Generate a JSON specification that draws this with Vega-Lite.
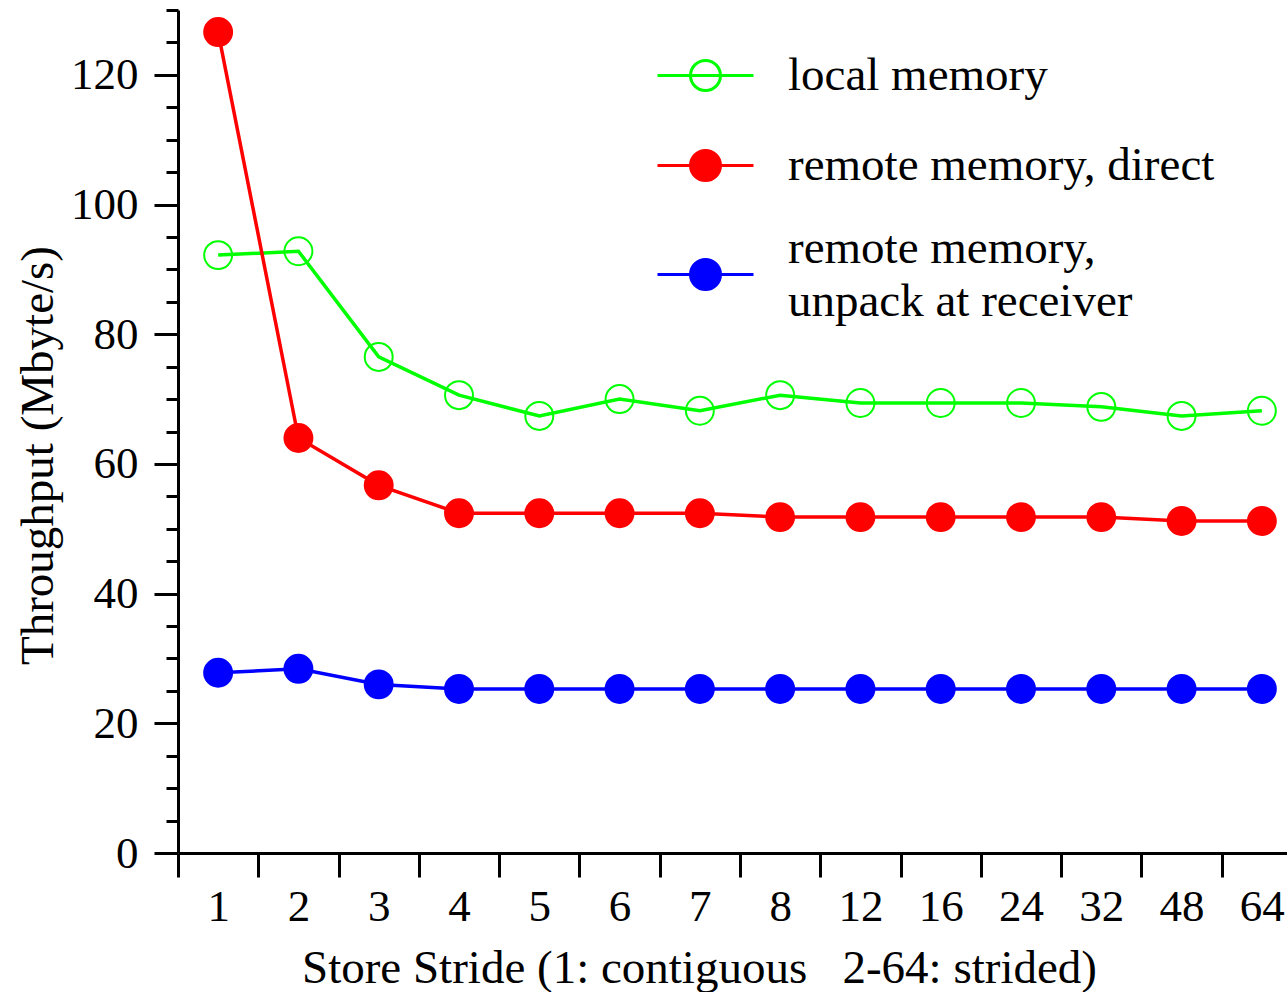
{
  "$schema": "https://vega.github.io/schema/vega-lite/v6.json",
  "autosize": {"type": "none"},
  "width": 1109,
  "height": 843,
  "padding": {"left": 178, "top": 10, "right": 0, "bottom": 139},
  "background": "white",
  "config": {
    "view": {"stroke": null},
    "font": "Liberation Serif",
    "axis": {"grid": false, "domainColor": "black", "domainWidth": 3, "tickColor": "black", "tickWidth": 3, "labelColor": "black", "titleColor": "black", "labelFont": "Liberation Serif", "titleFont": "Liberation Serif", "labelFontSize": 45, "titleFontSize": 47, "titleFontWeight": "normal"}
  },
  "data": {
    "values": [
      {"stride": 1, "series": "local memory", "value": 92.2},
      {"stride": 2, "series": "local memory", "value": 92.8},
      {"stride": 3, "series": "local memory", "value": 76.5},
      {"stride": 4, "series": "local memory", "value": 70.6},
      {"stride": 5, "series": "local memory", "value": 67.4},
      {"stride": 6, "series": "local memory", "value": 70.0},
      {"stride": 7, "series": "local memory", "value": 68.2},
      {"stride": 8, "series": "local memory", "value": 70.6},
      {"stride": 12, "series": "local memory", "value": 69.4},
      {"stride": 16, "series": "local memory", "value": 69.4},
      {"stride": 24, "series": "local memory", "value": 69.4},
      {"stride": 32, "series": "local memory", "value": 68.8},
      {"stride": 48, "series": "local memory", "value": 67.4},
      {"stride": 64, "series": "local memory", "value": 68.2},
      {"stride": 1, "series": "remote memory, direct", "value": 126.6},
      {"stride": 2, "series": "remote memory, direct", "value": 64.0},
      {"stride": 3, "series": "remote memory, direct", "value": 56.7},
      {"stride": 4, "series": "remote memory, direct", "value": 52.4},
      {"stride": 5, "series": "remote memory, direct", "value": 52.4},
      {"stride": 6, "series": "remote memory, direct", "value": 52.4},
      {"stride": 7, "series": "remote memory, direct", "value": 52.4},
      {"stride": 8, "series": "remote memory, direct", "value": 51.8},
      {"stride": 12, "series": "remote memory, direct", "value": 51.8},
      {"stride": 16, "series": "remote memory, direct", "value": 51.8},
      {"stride": 24, "series": "remote memory, direct", "value": 51.8},
      {"stride": 32, "series": "remote memory, direct", "value": 51.8},
      {"stride": 48, "series": "remote memory, direct", "value": 51.2},
      {"stride": 64, "series": "remote memory, direct", "value": 51.2},
      {"stride": 1, "series": "remote memory, unpack at receiver", "value": 27.8},
      {"stride": 2, "series": "remote memory, unpack at receiver", "value": 28.4},
      {"stride": 3, "series": "remote memory, unpack at receiver", "value": 26.0},
      {"stride": 4, "series": "remote memory, unpack at receiver", "value": 25.3},
      {"stride": 5, "series": "remote memory, unpack at receiver", "value": 25.3},
      {"stride": 6, "series": "remote memory, unpack at receiver", "value": 25.3},
      {"stride": 7, "series": "remote memory, unpack at receiver", "value": 25.3},
      {"stride": 8, "series": "remote memory, unpack at receiver", "value": 25.3},
      {"stride": 12, "series": "remote memory, unpack at receiver", "value": 25.3},
      {"stride": 16, "series": "remote memory, unpack at receiver", "value": 25.3},
      {"stride": 24, "series": "remote memory, unpack at receiver", "value": 25.3},
      {"stride": 32, "series": "remote memory, unpack at receiver", "value": 25.3},
      {"stride": 48, "series": "remote memory, unpack at receiver", "value": 25.3},
      {"stride": 64, "series": "remote memory, unpack at receiver", "value": 25.3}
    ]
  },
  "encoding": {
    "x": {
      "field": "stride", "type": "ordinal",
      "scale": {"type": "band", "paddingInner": 0, "paddingOuter": 0, "range": [0, 1124]},
      "axis": {
        "labelAngle": 0, "tickBand": "extent", "tickSize": 24, "labelPadding": 7,
        "title": "Store Stride (1: contiguous\u00a0\u00a0\u00a02-64: strided)",
        "titleX": 521, "titleY": 129, "titleAlign": "center", "titleBaseline": "alphabetic", "titleAnchor": null
      }
    },
    "y": {
      "field": "value", "type": "quantitative",
      "scale": {"domain": [0, 130], "nice": false, "zero": true},
      "axis": {
        "values": [0, 5, 10, 15, 20, 25, 30, 35, 40, 45, 50, 55, 60, 65, 70, 75, 80, 85, 90, 95, 100, 105, 110, 115, 120, 125, 130],
        "labelExpr": "datum.value % 20 === 0 ? datum.label : ''",
        "tickSize": {"condition": {"test": "datum.value % 20 === 0", "value": 24}, "value": 12},
        "labelPadding": 16,
        "title": "Throughput (Mbyte/s)",
        "titleAngle": -90, "titleX": -126, "titleY": 445, "titleAlign": "center", "titleBaseline": "alphabetic"
      }
    },
    "color": {
      "field": "series", "type": "nominal",
      "scale": {"domain": ["local memory", "remote memory, direct", "remote memory, unpack at receiver"], "range": ["#00ff00", "#ff0000", "#0000ff"]},
      "legend": {
        "title": null, "orient": "none", "legendX": 496, "legendY": 34, "padding": 0,
        "symbolType": "M -1.6 0 L 1.6 0 M 0.5 0 A 0.5 0.5 0 1 1 -0.5 0 A 0.5 0.5 0 1 1 0.5 0 Z",
        "symbolSize": 3600, "symbolStrokeWidth": 3,
        "labelFont": "Liberation Serif", "labelFontSize": 47, "labelColor": "black", "labelLimit": 0, "labelOffset": 51, "rowPadding": 35,
        "labelExpr": "datum.label == 'remote memory, unpack at receiver' ? ['remote memory,', 'unpack at receiver'] : datum.label",
        "encode": {
          "symbols": {
            "update": {
              "fill": {"signal": "datum.value === 'local memory' ? 'transparent' : datum.value === 'remote memory, direct' ? '#ff0000' : '#0000ff'"},
              "stroke": {"signal": "datum.value === 'local memory' ? '#00ff00' : datum.value === 'remote memory, direct' ? '#ff0000' : '#0000ff'"},
              "strokeWidth": {"value": 3},
              "opacity": {"value": 1}
            }
          },
          "labels": {
            "update": {
              "lineHeight": {"value": 53},
              "dy": {"signal": "datum.value === 'remote memory, unpack at receiver' ? -26 : 0"}
            }
          }
        }
      }
    }
  },
  "layer": [
    {
      "data": {"values": [{"edge": "top"}]},
      "mark": {"type": "rule", "color": "black", "strokeWidth": 3},
      "encoding": {"y": {"datum": 130}, "x": null, "color": null}
    },
    {
      "mark": {"type": "line", "strokeWidth": 3.5}
    },
    {
      "mark": {"type": "point", "shape": "circle", "size": 780, "strokeWidth": 2, "opacity": 1},
      "encoding": {
        "fill": {
          "field": "series", "type": "nominal",
          "scale": {"domain": ["local memory", "remote memory, direct", "remote memory, unpack at receiver"], "range": ["transparent", "#ff0000", "#0000ff"]},
          "legend": null
        }
      }
    }
  ]
}
